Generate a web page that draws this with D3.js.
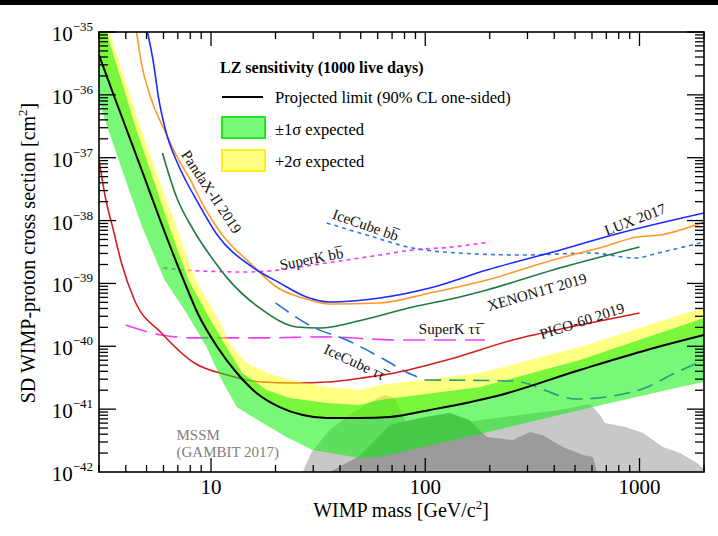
<!DOCTYPE html>
<html>
<head>
<meta charset="utf-8">
<script src="https://cdnjs.cloudflare.com/ajax/libs/d3/7.8.5/d3.min.js"></script>
<style>
  body { margin: 0; background: #fff; }
  svg { display: block; font-family: "Liberation Serif", "Times New Roman", serif; }
</style>
</head>
<body>
<svg id="chart" width="718" height="536"></svg>
<script>
// ---- data: [WIMP mass (GeV/c^2), cross section (cm^2)] ----
const lzLimit = [[3,4.3e-36],[3.54,9.25e-37],[4.21,1.91e-37],[4.94,4.42e-38],[5.81,9.84e-39],[7.44,1.135e-39],
  [8.65,3.39e-40],[10.7,9.75e-41],[13.2,3.76e-41],[16.3,1.81e-41],[20.9,1.08e-41],[26.8,8.07e-42],[34.7,7.23e-42],
  [49.4,7.23e-42],[68.3,7.5e-42],[105,9.7e-42],[216,1.62e-41],[527,4.2e-41],[1084,8.73e-41],[2000,1.51e-40]];

const lzMinus1 = [[3,7.98e-37],[3.32,2.76e-37],[3.99,4.42e-38],[4.79,7.62e-39],[6.07,1.135e-39],[7.68,3.39e-40],
  [9.53,9.75e-41],[11.2,2.91e-41],[13.2,1.08e-41],[17.4,6.03e-42],[22.5,3.6e-42],[29.8,2.24e-42],[49.4,1.67e-42],
  [61.3,1.73e-42],[180,4.03e-42],[527,9.7e-42],[1547,2.25e-41],[2000,2.7e-41]];

const lzPlus1 = [[3,1e-35],[3.25,1e-35],[4.49,2.76e-37],[6.47,7.08e-39],[7.85,1.135e-39],[9.53,3.39e-40],
  [11.8,9.75e-41],[14.0,3.76e-41],[18.2,2.02e-41],[23.3,1.5e-41],[34.7,1.25e-41],[49.4,1.16e-41],[61.3,1.4e-41],
  [180,2.25e-41],[527,6.05e-41],[2000,2.82e-40]];

const lzPlus2 = [[3,1e-35],[3.36,1e-35],[4.73,2.76e-37],[6.97,7.08e-39],[8.47,1.135e-39],[10.4,3.39e-40],
  [12.5,9.75e-41],[14.7,5.42e-41],[18.2,3.76e-41],[23.3,2.91e-41],[34.7,2.25e-41],[49.4,2.02e-41],[61.3,2.42e-41],
  [180,3.76e-41],[527,9.75e-41],[1547,3.15e-40],[2000,4.06e-40]];

const pandax = [[4.49,1e-35],[4.73,3.21e-36],[5.22,9.25e-37],[6.06,2.76e-37],[7.2,8.24e-38],[8.02,4.42e-38],
  [8.93,2.12e-38],[11.3,5.89e-39],[15.6,1.96e-39],[20.2,8.77e-40],[26.8,5.86e-40],[35.8,4.71e-40],[61.3,4.89e-40],
  [105,7.05e-40],[194,1.135e-39],[394,2.36e-39],[675,3.8e-39],[973,5.48e-39],[1247,5.89e-39],[2000,9.48e-39]];

const lux = [[5.05,1e-35],[5.39,3.21e-36],[5.68,9.25e-37],[6.13,2.76e-37],[6.97,8.24e-38],[7.6,4.42e-38],
  [8.56,2.12e-38],[10.7,5.89e-39],[15.6,1.82e-39],[20.9,1.02e-39],[27.9,6.08e-40],[35.8,5.07e-40],[61.3,5.86e-40],
  [105,8.45e-40],[194,1.64e-39],[394,3.16e-39],[811,6.34e-39],[2000,1.32e-38]];

const xenon1t = [[5.93,1.19e-37],[6.9,2.37e-38],[8.28,7.08e-39],[10.5,2.11e-39],[11.8,1.26e-39],[17.4,3.78e-40],
  [25.1,2.03e-40],[32.1,1.95e-40],[51,2.62e-40],[87.4,4.22e-40],[145,6.08e-40],[194,7.85e-40],[394,1.64e-39],
  [1000,3.8e-39]];

const pico60 = [[3,9.2e-38],[3.21,2.37e-38],[3.5,7.08e-39],[3.82,2.11e-39],[4.39,5.45e-40],[5.87,1.63e-40],
  [8.37,5.42e-41],[11.9,3.49e-41],[17.2,2.7e-41],[24.6,2.61e-41],[35,2.7e-41],[50.5,3.13e-41],[72,3.76e-41],
  [126,6.05e-41],[256,1.26e-40],[527,2.18e-40],[1000,3.39e-40]];

const superKbb = [[6,1.76e-39],[8.84,1.58e-39],[14.7,1.52e-39],[20.9,1.64e-39],[29.8,1.96e-39],[43,2.36e-39],
  [61.3,2.83e-39],[87.4,3.4e-39],[134,3.8e-39],[200,4.56e-39]];

const iceCubebb = [[34.7,9.14e-39],[53.3,5.89e-39],[87.4,3.66e-39],[142,3.05e-39],[292,2.83e-39],[593,3.05e-39],
  [953,2.54e-39],[1220,3.05e-39],[2000,4.56e-39]];

const superKtt = [[4,2.18e-40],[5.87,1.51e-40],[8.37,1.36e-40],[17.2,1.36e-40],[35,1.41e-40],[72,1.26e-40],[190,1.26e-40]];

const iceCubett = [[20,4.89e-40],[29.8,2.03e-40],[43,1.26e-40],[61.3,6.76e-41],[87.4,3.49e-41],[100,2.91e-41]];

const iceCubettHigh = [[100,2.91e-41],[256,2.8e-41],[511,1.45e-41],[1000,2.02e-41],[1497,3.9e-41],[2000,6.05e-41]];

const mssmLight = [[26.8,1e-42],[29.5,2.08e-42],[35.8,4.66e-42],[44.4,8.07e-42],[55,1.3e-41],[64.7,1.7e-41],
  [72,1.5e-41],[80.2,6.71e-42],[94.3,4.66e-42],[130,5.6e-42],[180,6.71e-42],[276,8.07e-42],[425,9.7e-42],
  [587,1.21e-41],[654,8.07e-42],[690,6.03e-42],[860,5.2e-42],[1039,4.17e-42],[1288,2.5e-42],[1547,2.0e-42],
  [1857,1.39e-42],[2000,1.12e-42],[2000,1e-42]];

const mssmDark = [[35.8,1e-42],[49.4,1.8e-42],[68.3,5.6e-42],[94.3,7.23e-42],[130,8.69e-42],[161,6.71e-42],
  [194,3.6e-42],[256,3.23e-42],[308,4.33e-42],[354,3.86e-42],[439,2.5e-42],[545,1.86e-42],[606,1.73e-42],[633,1e-42]];

// curve labels: [text, mass, sigma, angle]
const curveLabels = [
  ["PandaX-II 2019", 10.05, 2.85e-38, 56.5],
  ["IceCube b\u0062\u0305", 52.7, 8.5e-39, 19.4],
  ["SuperK b\u0062\u0305", 29.4, 2.45e-39, -11],
  ["LUX 2017", 953, 1.04e-38, -21],
  ["XENON1T 2019", 332, 7.31e-40, -16],
  ["PICO-60 2019", 539, 2.52e-40, -18],
  ["SuperK \u03c4\u03c4\u0305", 130, 1.88e-40, 0],
  ["IceCube \u03c4\u03c4\u0305", 46.8, 5.62e-41, 25]
];

const xMajor = [10, 100, 1000];
const yMajorExp = [-35, -36, -37, -38, -39, -40, -41, -42];

// ---- chart ----
const svg = d3.select('#chart');
const x = d3.scaleLog().domain([3, 2000]).range([99, 704]);
const y = d3.scaleLog().domain([1e-42, 1e-35]).range([472, 32]);

svg.append('rect').attr('x', 0).attr('y', 0).attr('width', 718).attr('height', 5).attr('fill', '#000');

svg.append('defs').append('clipPath').attr('id', 'plotclip')
  .append('rect').attr('x', 99).attr('y', 32).attr('width', 605).attr('height', 440);

const plot = svg.append('g').attr('clip-path', 'url(#plotclip)');

const line = d3.line().x(d => x(d[0])).y(d => y(d[1]));
const smooth = d3.line().x(d => x(d[0])).y(d => y(d[1])).curve(d3.curveMonotoneX);
const band = (upper, lower) => line(upper.concat(lower.slice().reverse())) + 'Z';

// MSSM regions
plot.append('path').attr('d', line(mssmLight) + 'Z').attr('fill', '#c8c8c8');
plot.append('path').attr('d', line(mssmDark) + 'Z').attr('fill', '#9b9b9b');

// other experiments (under the bands)
function curve(data, color, dash, w) {
  plot.append('path').attr('d', smooth(data)).attr('fill', 'none')
    .attr('stroke', color).attr('stroke-width', w || 1.6)
    .attr('stroke-dasharray', dash || null);
}
curve(superKbb, '#f23df2', '4,4');
curve(iceCubebb, '#2a7be0', '4,4');
curve(superKtt, '#f23df2', '22,9');
curve(iceCubett, '#2272d4', '16,8');
curve(pico60, '#d21f1f');
curve(xenon1t, '#1f7a3f');
curve(pandax, '#ff9a2a');
curve(lux, '#1b2bff');

// LZ bands
plot.append('path').attr('d', band(lzPlus2, lzLimit)).attr('fill', '#ffff00').attr('fill-opacity', 0.49);
plot.append('path').attr('d', band(lzPlus1, lzMinus1)).attr('fill', '#00f000').attr('fill-opacity', 0.53);
curve(iceCubettHigh, '#2a9d7c', '16,8');
plot.append('path').attr('d', smooth(lzLimit)).attr('fill', 'none').attr('stroke', '#000').attr('stroke-width', 2);

// curve labels
curveLabels.forEach(([t, m, s, a]) => {
  svg.append('text')
    .attr('transform', `translate(${x(m)},${y(s)}) rotate(${a})`)
    .attr('text-anchor', 'middle').attr('dominant-baseline', 'central')
    .attr('font-size', 15).attr('fill', '#111').text(t);
});
svg.append('text').attr('x', x(6.9)).attr('y', y(3.88e-42)).attr('dominant-baseline', 'central')
  .attr('font-size', 15).attr('fill', '#808080').text('MSSM');
svg.append('text').attr('x', x(6.9)).attr('y', y(2.08e-42)).attr('dominant-baseline', 'central')
  .attr('font-size', 15).attr('fill', '#808080').text('(GAMBIT 2017)');

// frame and ticks
const axes = svg.append('g').attr('stroke', '#000').attr('stroke-width', 1.3);
axes.append('rect').attr('x', 99).attr('y', 32).attr('width', 605).attr('height', 440).attr('fill', 'none')
  .attr('stroke-width', 1.6);

const isMajor = v => Math.abs(Math.log10(v) - Math.round(Math.log10(v))) < 1e-6;
x.ticks().forEach(v => {
  const len = isMajor(v) ? 14 : 7;
  const px = x(v);
  axes.append('line').attr('x1', px).attr('x2', px).attr('y1', 472).attr('y2', 472 - len);
  axes.append('line').attr('x1', px).attr('x2', px).attr('y1', 32).attr('y2', 32 + len);
});
y.ticks().forEach(v => {
  const len = isMajor(v) ? 17 : 9;
  const py = y(v);
  axes.append('line').attr('x1', 99).attr('x2', 99 + len).attr('y1', py).attr('y2', py);
  axes.append('line').attr('x1', 704).attr('x2', 704 - len).attr('y1', py).attr('y2', py);
});

// tick labels
xMajor.forEach(v => {
  svg.append('text').attr('x', x(v)).attr('y', 494).attr('text-anchor', 'middle')
    .attr('font-size', 21).text(v);
});
yMajorExp.forEach(e => {
  const t = svg.append('text').attr('x', 93).attr('y', y(Math.pow(10, e)) + 9)
    .attr('text-anchor', 'end').attr('font-size', 21);
  t.append('tspan').text('10');
  t.append('tspan').attr('dy', -10).attr('font-size', 13).text('\u2212' + (-e));
});

// axis titles
const xt = svg.append('text').attr('x', 401).attr('y', 517).attr('text-anchor', 'middle').attr('font-size', 20);
xt.append('tspan').text('WIMP mass [GeV/c');
xt.append('tspan').attr('dy', -8).attr('font-size', 13).text('2');
xt.append('tspan').attr('dy', 8).text(']');

const yt = svg.append('text').attr('transform', 'translate(35,253) rotate(-90)')
  .attr('text-anchor', 'middle').attr('font-size', 20);
yt.append('tspan').text('SD WIMP-proton cross section [cm');
yt.append('tspan').attr('dy', -8).attr('font-size', 13).text('2');
yt.append('tspan').attr('dy', 8).text(']');

// legend
const lg = svg.append('g');
lg.append('text').attr('x', 220).attr('y', 73).attr('font-size', 16).attr('font-weight', 'bold')
  .text('LZ sensitivity (1000 live days)');
lg.append('line').attr('x1', 222).attr('x2', 263).attr('y1', 97).attr('y2', 97)
  .attr('stroke', '#000').attr('stroke-width', 2);
lg.append('text').attr('x', 275).attr('y', 103).attr('font-size', 16.5).text('Projected limit (90% CL one-sided)');
lg.append('rect').attr('x', 222).attr('y', 117).attr('width', 43).attr('height', 21)
  .attr('fill', '#78f878').attr('stroke', '#1ee81e').attr('stroke-width', 2);
lg.append('text').attr('x', 275).attr('y', 135).attr('font-size', 16.5).text('\u00b11\u03c3 expected');
lg.append('rect').attr('x', 222).attr('y', 150).attr('width', 43).attr('height', 21)
  .attr('fill', '#ffff82').attr('stroke', '#ffee1a').attr('stroke-width', 2);
lg.append('text').attr('x', 275).attr('y', 167).attr('font-size', 16.5).text('+2\u03c3 expected');
</script>
</body>
</html>
